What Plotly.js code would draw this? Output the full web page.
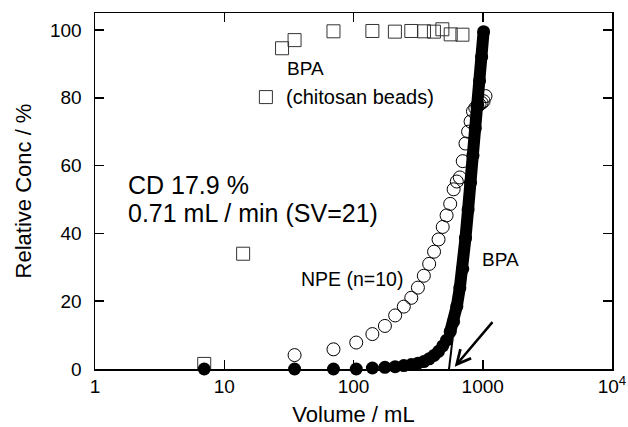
<!DOCTYPE html>
<html>
<head>
<meta charset="utf-8">
<script src="https://cdn.plot.ly/plotly-3.0.1.min.js"></script>
<style>html,body{margin:0;padding:0;background:#fff;}#chart{width:628px;height:427px;}</style>
</head>
<body>
<div id="chart"></div>
<script>
// BPA on chitosan beads (open squares)
const chitosanVol = [7, 14, 21, 28, 35, 70, 140, 209, 280, 351, 419, 487, 565, 696];
const chitosanConc = [1.5, 34, 80.2, 94.6, 97, 99.6, 99.7, 99.5, 99.7, 99.6, 99.5, 100.2, 98.7, 98.6];

// NPE (n=10) (open circles)
const npeVol = [35, 70, 105, 140, 175, 210, 245, 280, 315, 350, 385, 420, 455, 490, 525, 560, 595, 630, 665, 700, 735, 770, 805, 840, 875, 910, 945, 980, 1015, 1050];
const npeConc = [4.1, 5.8, 7.8, 10.3, 12.7, 15.8, 18.4, 21, 24, 27.5, 31, 34.6, 38.2, 41.9, 45.3, 48.7, 53, 55.3, 56.5, 61.3, 66.5, 70, 73, 76, 77, 77.5, 78, 78.5, 79, 80.5];

// BPA (filled circles)
const bpaVol = [7, 35, 70, 105, 140, 175, 210, 245, 280, 315, 350, 385, 420, 455, 490, 525, 560, 595, 630, 665, 700, 735, 770, 805, 840, 875, 910, 945, 980, 1015];
const bpaConc = [0, 0, 0, 0, 0.3, 0.5, 0.7, 1, 1.3, 1.7, 2.2, 3, 4, 5.2, 6.8, 8.5, 11, 14, 18.5, 24, 29.5, 38.6, 47, 55, 63, 71, 78, 85, 92, 99.5];

// tangent line to breakthrough front and arrow
const tangentVol = [548, 760];
const tangentConc = [0, 45];
const arrowTip = [607, 0.7];

const xTickVals = [1, 10, 100, 1000, 10000];
const xTickText = ['1', '10', '100', '1000', '10<sup>4</sup>'];
const yTickVals = [0, 20, 40, 60, 80, 100];

const FONT = 'Liberation Sans, Arial, Helvetica, sans-serif';
const denseStart = bpaVol.findIndex(v => v >= 560);

const traces = [
  {x: tangentVol, y: tangentConc, mode: 'lines', line: {color: '#000', width: 2}, hoverinfo: 'skip', cliponaxis: false},
  {x: npeVol, y: npeConc, mode: 'markers', marker: {symbol: 'circle-open', size: 13, color: '#000', line: {width: 1, color: '#000'}}, cliponaxis: false},
  {x: bpaVol.slice(denseStart), y: bpaConc.slice(denseStart), mode: 'lines', line: {color: '#000', width: 12}, hoverinfo: 'skip', cliponaxis: false},
  {x: bpaVol, y: bpaConc, mode: 'markers', marker: {symbol: 'circle', size: 13, color: '#000'}, cliponaxis: false},
  {x: chitosanVol, y: chitosanConc, mode: 'markers', marker: {symbol: 'square-open', size: 13, color: '#333', line: {width: 1, color: '#333'}}, cliponaxis: false}
];

function lx(v) { return Math.log10(v); }
function txt(text, x, y, size) {
  return {text: text, x: lx(x), y: y, xref: 'x', yref: 'y', xanchor: 'left', yanchor: 'middle', showarrow: false, font: {family: FONT, size: size, color: '#000'}};
}

const layout = {
  width: 628, height: 427,
  margin: {l: 95, r: 16, t: 13, b: 58},
  paper_bgcolor: '#fff', plot_bgcolor: '#fff',
  showlegend: false,
  font: {family: FONT, color: '#000'},
  xaxis: {
    type: 'log', range: [0, 4],
    tickvals: xTickVals, ticktext: xTickText,
    ticks: 'inside', ticklen: 9, tickwidth: 1.5, tickcolor: '#000',
    showline: true, linecolor: '#000', linewidth: 1.5, mirror: 'ticks',
    showgrid: false, zeroline: false,
    tickfont: {family: FONT, size: 19, color: '#000'},
    title: {text: 'Volume / mL', font: {family: FONT, size: 22, color: '#000'}, standoff: 10}
  },
  yaxis: {
    range: [0, 105],
    tickvals: yTickVals,
    ticks: 'inside', ticklen: 9, tickwidth: 1.5, tickcolor: '#000',
    ticklabelstandoff: 8,
    showline: true, linecolor: '#000', linewidth: 1.5, mirror: 'ticks',
    showgrid: false, zeroline: false,
    tickfont: {family: FONT, size: 19, color: '#000'},
    title: {text: 'Relative Conc / %', font: {family: FONT, size: 22, color: '#000'}, standoff: 12}
  },
  annotations: [
    txt('BPA', 29.5, 88.5, 19),
    txt('(chitosan beads)', 29, 80.2, 20),
    txt('CD 17.9 %', 1.74, 54.3, 25),
    txt('0.71 mL / min (SV=21)', 1.74, 46, 25),
    txt('NPE (n=10)', 38.1, 26.5, 19.5),
    txt('BPA', 952, 32.2, 19),
    {x: lx(arrowTip[0]), y: arrowTip[1], xref: 'x', yref: 'y', ax: 39, ay: -46, axref: 'pixel', ayref: 'pixel',
     showarrow: true, arrowhead: 5, arrowsize: 1.1, arrowwidth: 2.5, arrowcolor: '#000', text: ''}
  ]
};

Plotly.newPlot('chart', traces, layout, {displayModeBar: false, staticPlot: true});
</script>
</body>
</html>
